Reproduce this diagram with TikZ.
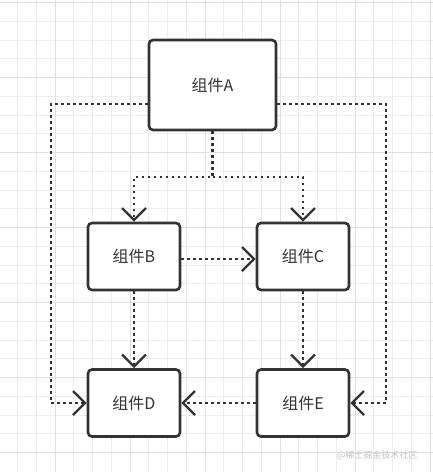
\documentclass[tikz,border=0pt]{standalone}
\usepackage{fontspec}
\setmainfont{Noto Sans CJK SC}
\usepackage{tikz}
\usetikzlibrary{positioning,arrows.meta,calc}
\definecolor{inkgray}{HTML}{333333}
\definecolor{gridminor}{HTML}{EEEEEE}
\definecolor{gridmajor}{HTML}{E0E0E0}
\definecolor{markgray}{HTML}{C4C4C4}

\begin{document}
\begin{tikzpicture}[x=1pt,y=-1pt,
  comp/.style={draw=inkgray,line width=2.6pt,rounded corners=4pt,fill=white,
    text=inkgray,font=\fontsize{16}{18}\selectfont},
  dep/.style={draw=inkgray,line width=2.6pt,dash pattern=on 2.6pt off 3.4pt,
    -{Straight Barb[length=12pt,width=24pt,line width=2.4pt]}}]
\useasboundingbox[fill=white] (0,0) rectangle (433,472);
% background grid
\foreach \i in {0,...,23} {
  \draw[gridminor,line width=0.8pt] (-1.25+18.75*\i,0) -- ++(0,472);
  \draw[gridminor,line width=0.8pt] (0,2.5+18.75*\i) -- ++(433,0);
}
\foreach \i in {0,...,6} {
  \draw[gridmajor,line width=0.9pt] (55+75*\i-75,0) -- ++(0,472);
  \draw[gridmajor,line width=0.9pt] (0,2.5+75*\i) -- ++(433,0);
}
\node[comp,minimum width=127pt,minimum height=90pt] at (212.5,85) (A) {组件A};
\node[comp,minimum width=92pt,minimum height=67pt] at (134,256.5) (B) {组件B};
\node[comp,minimum width=92pt,minimum height=67pt] at (303,256.5) (C) {组件C};
\node[comp,minimum width=92pt,minimum height=67pt] at (134,403) (D) {组件D};
\node[comp,minimum width=92pt,minimum height=67pt] at (303,403) (E) {组件E};
\coordinate (split) at (212.5,177);
\coordinate (lt) at (51,104);
\coordinate (rt) at (386,104);
\draw[dep] (A.south) -- (split) -| (B.north);
\draw[dep] (split) -| (C.north);
\draw[dep] ([yshift=-19pt]A.west) -- (lt) |- (D.west);
\draw[dep] ([yshift=-19pt]A.east) -- (rt) |- (E.east);
\draw[dep] ([yshift=-2.5pt]B.east) -- ([yshift=-2.5pt]C.west);
\draw[dep] (B.south) -- (D.north);
\draw[dep] (C.south) -- (E.north);
\draw[dep] (E.west) -- (D.east);
\node[text=markgray,font=\fontsize{9}{10}\selectfont,anchor=east] at (421,455) (mark) {@稀土掘金技术社区};
\end{tikzpicture}
\end{document}
